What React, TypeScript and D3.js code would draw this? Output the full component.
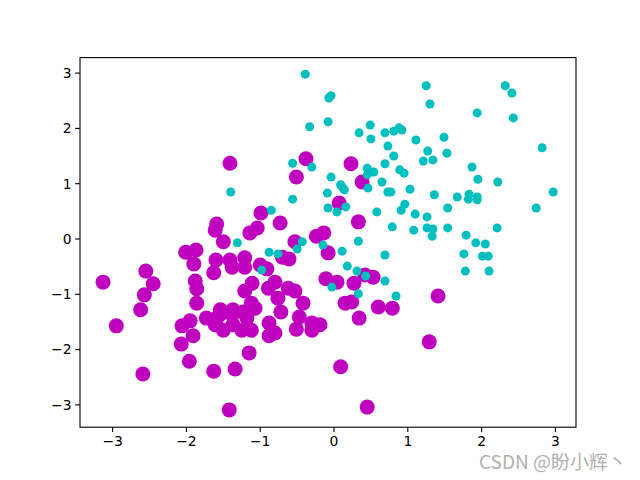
import React from "react";
import * as d3 from "d3";

// Series "c" (cyan, small markers)
const cyanX = [-0.39,-0.07,-0.04,-0.33,-0.08,0.34,0.49,0.50,0.69,0.81,0.88,0.92,0.73,0.81,0.69,-0.56,-0.30,-0.04,0.09,0.45,0.45,0.54,0.65,0.89,0.95,1.11,1.25,1.30,2.32,2.41,1.94,2.43,1.49,1.27,1.21,1.34,1.53,2.82,1.87,1.95,2.22,1.03,1.36,1.67,1.83,1.82,1.94,1.94,2.97,2.74,1.54,1.10,1.26,1.08,1.26,1.34,1.33,1.54,2.21,1.79,1.92,2.05,1.76,2.01,2.09,1.78,2.10,0.11,0.14,0.46,0.73,0.77,-0.09,-0.56,-0.08,0.04,0.16,0.58,0.91,0.96,-0.85,0.79,0.33,-0.43,-0.50,-0.15,0.11,-0.88,-0.76,0.69,0.18,-0.98,0.31,0.43,0.69,-0.03,0.33,0.84,-1.40,-1.31];
const cyanY = [2.98,2.55,2.59,2.03,2.12,1.92,2.06,1.81,1.92,1.95,2.01,1.97,1.68,1.50,1.36,1.37,1.30,1.12,0.98,1.28,1.16,1.21,1.03,1.25,1.19,1.79,2.77,2.44,2.77,2.64,2.28,2.19,1.84,1.59,1.41,1.43,1.55,1.65,1.30,1.08,1.03,0.90,0.80,0.76,0.81,0.72,0.76,0.71,0.85,0.56,0.56,0.45,0.40,0.16,0.20,0.18,0.05,0.20,0.20,0.07,-0.07,-0.09,-0.27,-0.31,-0.31,-0.58,-0.58,0.94,0.89,0.92,0.85,0.85,0.83,0.72,0.56,0.49,0.58,0.49,0.52,0.63,0.52,0.22,-0.04,-0.05,-0.18,-0.11,-0.22,-0.24,-0.27,-0.29,-0.49,-0.56,-0.58,-0.67,-0.76,-0.87,-0.99,-1.03,0.85,-0.07];

// Series "m" (magenta, large markers)
const magentaX = [-1.41,-0.38,-0.51,0.23,0.38,0.07,-0.99,-0.73,0.33,-1.04,-1.14,-0.53,-0.24,-0.14,-0.08,-0.70,-0.61,-1.00,-0.91,-1.21,-0.11,0.04,0.27,0.42,0.53,-1.11,-0.80,-0.89,-0.62,-0.53,-0.76,-0.42,0.15,0.24,0.60,0.79,-1.21,-1.12,-1.59,-1.61,-1.50,-2.01,-1.87,-1.90,-1.60,-1.63,-1.41,-1.38,-1.21,-3.13,-2.55,-2.45,-2.57,-1.88,-1.86,-1.86,-2.62,-1.54,-1.37,-2.95,-2.06,-1.95,-1.91,-2.07,-1.73,-1.59,-1.54,-1.61,-1.50,-1.38,-1.37,-1.25,-1.23,-1.18,-1.15,-1.96,-2.59,-1.63,-1.34,-1.42,-1.07,-0.72,-0.47,-0.88,-0.80,-0.88,-1.12,-0.51,-0.30,-0.19,-0.30,0.34,0.09,0.45,1.29,1.41];
const magentaY = [1.37,1.45,1.12,1.36,1.03,0.65,0.47,0.29,0.31,0.20,0.11,-0.05,0.05,0.11,-0.25,-0.33,-0.36,-0.47,-0.54,-0.34,-0.72,-0.78,-0.80,-0.65,-0.69,-0.80,-0.78,-0.89,-0.89,-0.94,-1.07,-1.16,-1.16,-1.14,-1.23,-1.25,-0.94,-1.16,0.27,0.16,-0.05,-0.24,-0.20,-0.45,-0.38,-0.61,-0.38,-0.51,-0.51,-0.78,-0.58,-0.81,-1.01,-0.76,-0.90,-1.16,-1.28,-1.28,-1.28,-1.57,-1.57,-1.48,-1.75,-1.90,-1.43,-1.43,-1.36,-1.55,-1.65,-1.37,-1.55,-1.65,-1.32,-1.43,-2.06,-2.21,-2.44,-2.39,-2.35,-3.09,-1.25,-1.32,-1.41,-1.52,-1.70,-1.75,-1.65,-1.63,-1.52,-1.55,-1.65,-1.43,-2.31,-3.04,-1.86,-1.03];

const xTicks = [-3, -2, -1, 0, 1, 2, 3];
const yTicks = [-3, -2, -1, 0, 1, 2, 3];
const watermark = "CSDN @盼小辉丶";

const W = 640, H = 480;
const L = 80, R = 576, T = 57.6, B = 427.2;

export default function App() {
  const x = d3.scaleLinear().domain([-3.442, 3.279]).range([L, R]);
  const y = d3.scaleLinear().domain([-3.403, 3.280]).range([B, T]);
  const fmt = (v: number) => (v < 0 ? "\u2212" + Math.abs(v) : String(v));
  const font = "'DejaVu Sans', sans-serif";
  return (
    <div style={{ position: "absolute", left: 0, top: 0 }}>
      <svg width={W} height={H} style={{ display: "block", background: "#fff" }}>
        <rect x={0} y={0} width={W} height={H} fill="#fff" />
        <g>
          {magentaX.map((v, i) => (
            <circle key={"m" + i} cx={x(v)} cy={y(magentaY[i])} r={7.5} fill="#bf00bf" />
          ))}
          {cyanX.map((v, i) => (
            <circle key={"c" + i} cx={x(v)} cy={y(cyanY[i])} r={4.5} fill="#00bfbf" />
          ))}
        </g>
        <rect x={L} y={T} width={R - L} height={B - T} fill="none" stroke="#000" strokeWidth={1.1} />
        {xTicks.map((t) => (
          <g key={"xt" + t}>
            <line x1={x(t)} x2={x(t)} y1={B} y2={B + 4.9} stroke="#000" strokeWidth={1.1} />
            <text x={x(t)} y={B + 19} textAnchor="middle" fontFamily={font} fontSize={13.9} fill="#000">
              {fmt(t)}
            </text>
          </g>
        ))}
        {yTicks.map((t) => (
          <g key={"yt" + t}>
            <line x1={L - 4.9} x2={L} y1={y(t)} y2={y(t)} stroke="#000" strokeWidth={1.1} />
            <text x={L - 8.5} y={y(t)} dy="0.35em" textAnchor="end" fontFamily={font} fontSize={13.9} fill="#000">
              {fmt(t)}
            </text>
          </g>
        ))}
        <text x={627} y={469} textAnchor="end" fontFamily="'Noto Sans CJK SC', 'Noto Sans', sans-serif" fontSize={19} fill="#b0b0b0" stroke="#fff" strokeWidth={0.5} paintOrder="stroke">
          {watermark}
        </text>
      </svg>
    </div>
  );
}
